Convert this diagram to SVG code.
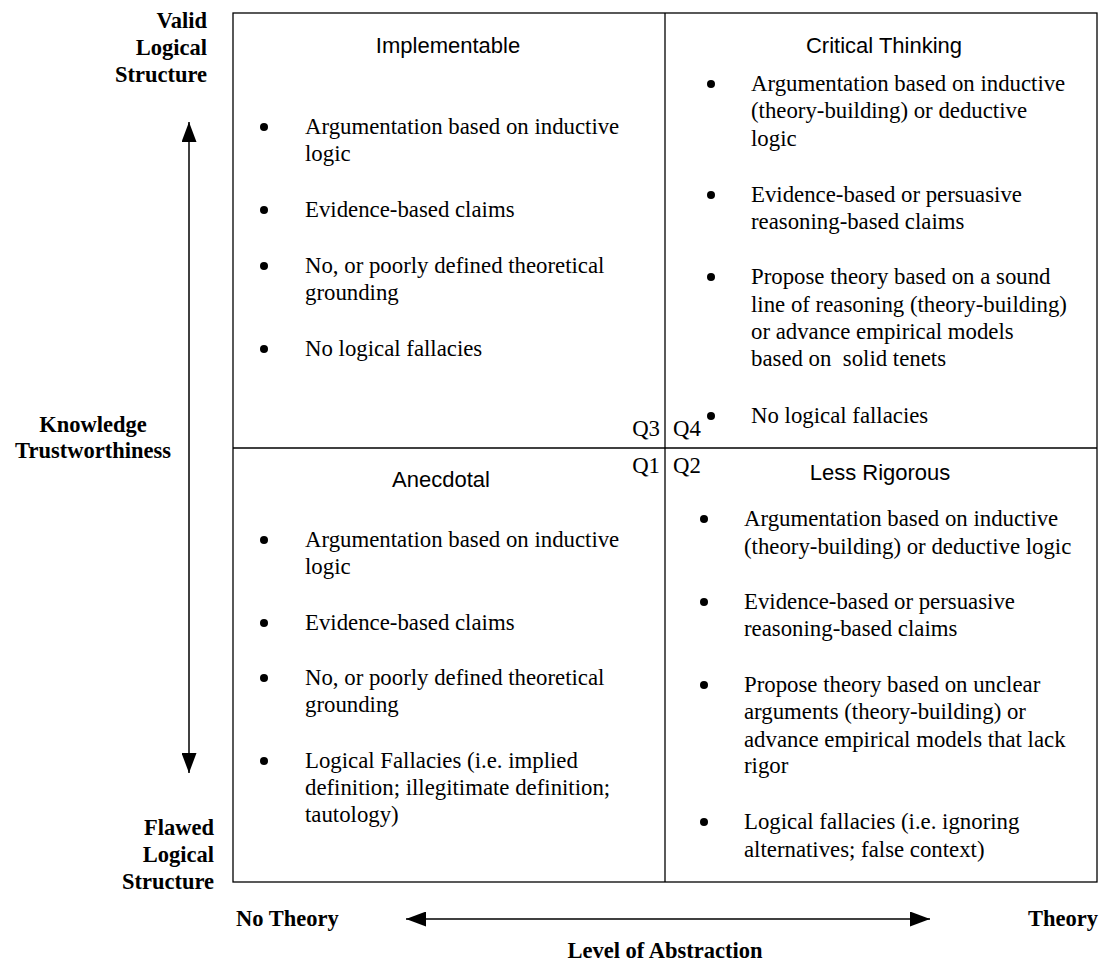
<svg xmlns="http://www.w3.org/2000/svg" width="1104" height="964" viewBox="0 0 1104 964">
<style>
.t{font-family:"Liberation Serif","Times New Roman",serif;font-size:22.8px;fill:#000}
.b{font-family:"Liberation Serif","Times New Roman",serif;font-size:22.5px;font-weight:bold;fill:#000}
.h{font-family:"Liberation Sans",Arial,sans-serif;font-size:22px;fill:#000;text-anchor:middle}
.ln{stroke:#000;stroke-width:1.3;fill:none}
</style>
<defs>
<marker id="ah" viewBox="0 0 20 15" refX="20" refY="7.5" markerWidth="20" markerHeight="15" markerUnits="userSpaceOnUse" orient="auto-start-reverse">
<path d="M0,0 L20,7.5 L0,15 Z" fill="#000"/>
</marker>
</defs>
<g id="grid">
<rect class="ln" x="233" y="13" width="864" height="869"/>
<line class="ln" x1="665" y1="13" x2="665" y2="882"/>
<line class="ln" x1="233" y1="448" x2="1097" y2="448"/>
</g>
<g id="connectors">
<line x1="189" y1="122" x2="189" y2="773" stroke="#000" stroke-width="1.5" marker-start="url(#ah)" marker-end="url(#ah)"/>
<line x1="406" y1="919" x2="930" y2="919" stroke="#000" stroke-width="1.5" marker-start="url(#ah)" marker-end="url(#ah)"/>
</g>
<g id="axis-labels">
<text class="b" text-anchor="end"><tspan x="207" y="28">Valid</tspan><tspan x="207" y="55">Logical</tspan><tspan x="207" y="82">Structure</tspan></text>
<text class="b" text-anchor="middle"><tspan x="93" y="432">Knowledge</tspan><tspan x="93" y="458">Trustworthiness</tspan></text>
<text class="b" text-anchor="end"><tspan x="214" y="835">Flawed</tspan><tspan x="214" y="862">Logical</tspan><tspan x="214" y="889">Structure</tspan></text>
<text class="b" x="236" y="926">No Theory</text>
<text class="b" x="1098" y="926" text-anchor="end">Theory</text>
<text class="b" x="665" y="958" text-anchor="middle">Level of Abstraction</text>
</g>
<g id="q-labels">
<text class="t" x="660" y="436" text-anchor="end">Q3</text>
<text class="t" x="673" y="436">Q4</text>
<text class="t" x="660" y="473" text-anchor="end">Q1</text>
<text class="t" x="673" y="473">Q2</text>
</g>
<g id="q3-implementable">
<text class="h" x="448" y="53">Implementable</text>
<circle cx="264" cy="127" r="4"/><circle cx="264" cy="210" r="4"/><circle cx="264" cy="266" r="4"/><circle cx="264" cy="349" r="4"/>
<text class="t"><tspan x="305" y="134">Argumentation based on inductive</tspan><tspan x="305" y="161">logic</tspan><tspan x="305" y="217">Evidence-based claims</tspan><tspan x="305" y="273">No, or poorly defined theoretical</tspan><tspan x="305" y="300">grounding</tspan><tspan x="305" y="356">No logical fallacies</tspan></text>
</g>
<g id="q4-critical-thinking">
<text class="h" x="884" y="53">Critical Thinking</text>
<circle cx="711" cy="84" r="4"/><circle cx="711" cy="195" r="4"/><circle cx="711" cy="277" r="4"/><circle cx="711" cy="416" r="4"/>
<text class="t"><tspan x="751" y="91">Argumentation based on inductive</tspan><tspan x="751" y="118">(theory-building) or deductive</tspan><tspan x="751" y="146">logic</tspan><tspan x="751" y="202">Evidence-based or persuasive</tspan><tspan x="751" y="229">reasoning-based claims</tspan><tspan x="751" y="284">Propose theory based on a sound</tspan><tspan x="751" y="312">line of reasoning (theory-building)</tspan><tspan x="751" y="339">or advance empirical models</tspan><tspan x="751" y="366" xml:space="preserve">based on  solid tenets</tspan><tspan x="751" y="423">No logical fallacies</tspan></text>
</g>
<g id="q1-anecdotal">
<text class="h" x="441" y="487">Anecdotal</text>
<circle cx="264" cy="540" r="4"/><circle cx="264" cy="623" r="4"/><circle cx="264" cy="678" r="4"/><circle cx="264" cy="761" r="4"/>
<text class="t"><tspan x="305" y="547">Argumentation based on inductive</tspan><tspan x="305" y="574">logic</tspan><tspan x="305" y="630">Evidence-based claims</tspan><tspan x="305" y="685">No, or poorly defined theoretical</tspan><tspan x="305" y="712">grounding</tspan><tspan x="305" y="768">Logical Fallacies (i.e. implied</tspan><tspan x="305" y="795">definition; illegitimate definition;</tspan><tspan x="305" y="822">tautology)</tspan></text>
</g>
<g id="q2-less-rigorous">
<text class="h" x="880" y="480">Less Rigorous</text>
<circle cx="704" cy="519" r="4"/><circle cx="704" cy="602" r="4"/><circle cx="704" cy="685" r="4"/><circle cx="704" cy="822" r="4"/>
<text class="t"><tspan x="744" y="526">Argumentation based on inductive</tspan><tspan x="744" y="554">(theory-building) or deductive logic</tspan><tspan x="744" y="609">Evidence-based or persuasive</tspan><tspan x="744" y="636">reasoning-based claims</tspan><tspan x="744" y="692">Propose theory based on unclear</tspan><tspan x="744" y="719">arguments (theory-building) or</tspan><tspan x="744" y="747">advance empirical models that lack</tspan><tspan x="744" y="773">rigor</tspan><tspan x="744" y="829">Logical fallacies (i.e. ignoring</tspan><tspan x="744" y="857">alternatives; false context)</tspan></text>
</g>
</svg>
